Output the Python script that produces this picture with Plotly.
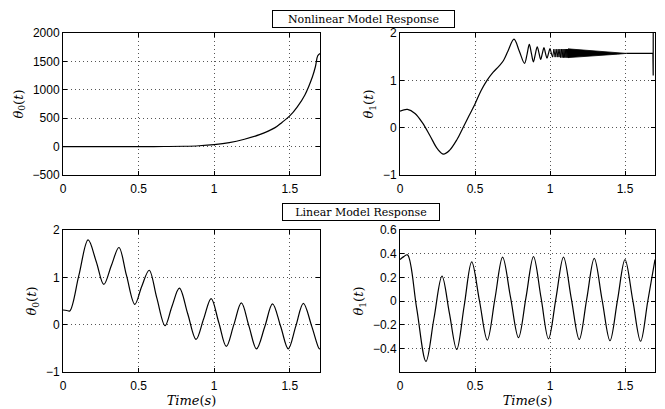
import plotly.graph_objects as go

# ---------------- data ----------------
# Nonlinear model, theta0
nl0_t = [0, 0.2, 0.4, 0.6, 0.7, 0.8, 0.9, 1.0, 1.1, 1.2, 1.3, 1.4, 1.45, 1.5,
         1.55, 1.6, 1.65, 1.67, 1.685, 1.7]
nl0_v = [0, 0, 0, 1, 2, 6, 15, 35, 70, 130, 210, 330, 430, 540,
         700, 910, 1230, 1410, 1600, 1640]

# Nonlinear model, theta1 : smooth part
nl1_t = [0, 0.05, 0.1, 0.15, 0.2, 0.25, 0.29, 0.33, 0.38, 0.42, 0.46, 0.5,
         0.54, 0.58, 0.62, 0.66, 0.69, 0.72, 0.76,
         0.795, 0.83, 0.847, 0.862, 0.876, 0.889, 0.902, 0.915, 0.927, 0.938,
         0.949, 0.96, 0.97, 0.98, 0.99, 1.0, 1.009, 1.018]
nl1_v = [0.35, 0.385, 0.3, 0.1, -0.17, -0.45, -0.56, -0.48, -0.25, 0.0, 0.25, 0.5,
         0.78, 1.0, 1.17, 1.3, 1.42, 1.62, 1.87,
         1.62, 1.36, 1.55, 1.76, 1.57, 1.39, 1.55, 1.71, 1.57, 1.44,
         1.57, 1.69, 1.57, 1.47, 1.57, 1.67, 1.57, 1.49]
# Nonlinear model, theta1 : fast oscillations
nl1_zig_t = [1.018, 1.026, 1.034, 1.041, 1.048, 1.054, 1.06, 1.066, 1.071, 1.076,
             1.081, 1.086, 1.09, 1.094, 1.098, 1.102, 1.106, 1.110, 1.113, 1.116,
             1.119, 1.122, 1.125]
nl1_zig_v = [1.49, 1.66, 1.49, 1.66, 1.49, 1.66, 1.49, 1.66, 1.48, 1.66,
             1.48, 1.66, 1.48, 1.66, 1.48, 1.66, 1.48, 1.66, 1.48, 1.66,
             1.48, 1.66, 1.48]
# Nonlinear model, theta1 : envelope of the unresolved oscillation band
band_t = [1.12, 1.2, 1.3, 1.4, 1.45, 1.51]
band_hi = [1.665, 1.645, 1.625, 1.60, 1.59, 1.572]
band_lo = [1.48, 1.495, 1.515, 1.54, 1.553, 1.569]
# Nonlinear model, theta1 : tail
tail_t = [1.51, 1.686, 1.688, 1.689]
tail_v = [1.5708, 1.5708, 1.1, 10.0]

# Linear model, theta0
l0_t = [0, 0.025, 0.045, 0.105, 0.166, 0.22, 0.27, 0.32, 0.37, 0.42, 0.475, 0.52,
        0.57, 0.62, 0.675, 0.72, 0.77, 0.825, 0.88, 0.93, 0.98, 1.03, 1.08, 1.13,
        1.18, 1.23, 1.28, 1.335, 1.386, 1.44, 1.49, 1.54, 1.59, 1.645, 1.695, 1.7]
l0_v = [0.31, 0.30, 0.29, 1.04, 1.79, 1.33, 0.85, 1.25, 1.63, 1.04, 0.43, 0.80,
        1.15, 0.57, -0.02, 0.38, 0.77, 0.23, -0.31, 0.12, 0.55, 0.05, -0.46, 0.0,
        0.46, -0.03, -0.51, -0.04, 0.44, -0.04, -0.51, -0.03, 0.45, -0.03, -0.51, -0.505]

# Linear model, theta1
l1_t = [0, 0.025, 0.05, 0.111, 0.173, 0.226, 0.28, 0.329, 0.378, 0.428, 0.478,
        0.53, 0.582, 0.633, 0.684, 0.737, 0.79, 0.84, 0.89, 0.94, 0.99, 1.04,
        1.09, 1.142, 1.195, 1.245, 1.295, 1.347, 1.4, 1.45, 1.5, 1.552, 1.604,
        1.652, 1.7]
l1_v = [0.35, 0.375, 0.39, -0.06, -0.51, -0.15, 0.21, -0.1, -0.41, -0.04, 0.33,
        0.0, -0.33, 0.02, 0.37, 0.03, -0.31, 0.03, 0.375, 0.03, -0.32, 0.025,
        0.37, 0.02, -0.325, 0.018, 0.36, 0.012, -0.336, 0.007, 0.35, 0.005, -0.34,
        0.0, 0.35]

x_ticks = [0, 0.5, 1, 1.5]
x_ticktext = ["0", "0.5", "1", "1.5"]
y_ticks_nl0 = [-500, 0, 500, 1000, 1500, 2000]
y_ticks_pm1 = [-1, 0, 1, 2]
y_ticks_l1 = [-0.4, -0.2, 0, 0.2, 0.4, 0.6]

title_top = "Nonlinear Model Response"
title_bottom = "Linear Model Response"
ylab0 = "<i>θ</i><sub>0</sub>(<i>t</i>)"
ylab1 = "<i>θ</i><sub>1</sub>(<i>t</i>)"
xlab = "<i>Time</i>(<i>s</i>)"

# ---------------- figure ----------------
W, H = 665, 409
fig = go.Figure()
line = dict(color="black", width=1.2)
sline = dict(shape="spline", smoothing=1.0, color="black", width=1.2)

fig.add_trace(go.Scatter(x=nl0_t, y=nl0_v, mode="lines", line=sline,
                         xaxis="x", yaxis="y", showlegend=False))
fig.add_trace(go.Scatter(x=nl1_t, y=nl1_v, mode="lines", line=sline,
                         xaxis="x2", yaxis="y2", showlegend=False))
fig.add_trace(go.Scatter(x=nl1_zig_t, y=nl1_zig_v, mode="lines", line=dict(color="black", width=1),
                         xaxis="x2", yaxis="y2", showlegend=False))
fig.add_trace(go.Scatter(x=band_t + band_t[::-1], y=band_hi + band_lo[::-1], mode="lines",
                         fill="toself", fillcolor="black", line=dict(color="black", width=0.8),
                         xaxis="x2", yaxis="y2", showlegend=False))
fig.add_trace(go.Scatter(x=tail_t, y=tail_v, mode="lines", line=line,
                         xaxis="x2", yaxis="y2", showlegend=False))
fig.add_trace(go.Scatter(x=l0_t, y=l0_v, mode="lines", line=sline,
                         xaxis="x3", yaxis="y3", showlegend=False))
fig.add_trace(go.Scatter(x=l1_t, y=l1_v, mode="lines", line=sline,
                         xaxis="x4", yaxis="y4", showlegend=False))

tickfont = dict(family="Liberation Sans, Arial", size=12, color="black")
labfont = dict(family="DejaVu Serif", size=13, color="black")
grid = dict(showgrid=True, gridcolor="#555", griddash="1px,3px", gridwidth=1)


def xax(dom, anchor, title=None):
    d = dict(domain=dom, anchor=anchor, range=[0, 1.7], tickvals=x_ticks, ticktext=x_ticktext,
             showline=True, mirror="ticks", linecolor="black", linewidth=1,
             ticks="inside", ticklen=4, tickcolor="black", automargin=False,
             ticklabelstandoff=3,
             zeroline=False, tickfont=tickfont, **grid)
    if title:
        d["title"] = dict(text=title, font=labfont, standoff=2)
    return d


def yax(dom, anchor, rng, ticks, title):
    return dict(domain=dom, anchor=anchor, range=rng, tickvals=ticks,
                showline=True, mirror="ticks", linecolor="black", linewidth=1,
                ticks="inside", ticklen=4, tickcolor="black", automargin=False,
                zeroline=False, tickfont=tickfont, **grid,
                title=dict(text=title, font=labfont, standoff=6))


xl = [63 / W, 320 / W]
xr = [400 / W, 655 / W]
yt = [1 - 175 / H, 1 - 33 / H]
yb = [1 - 372 / H, 1 - 230 / H]

fig.update_layout(
    width=W, height=H, autosize=False,
    margin=dict(l=0, r=0, t=0, b=0, autoexpand=False),
    paper_bgcolor="white", plot_bgcolor="white",
    xaxis=xax(xl, "y"), yaxis=yax(yt, "x", [-500, 2000], y_ticks_nl0, ylab0),
    xaxis2=xax(xr, "y2"), yaxis2=yax(yt, "x2", [-1, 2], y_ticks_pm1, ylab1),
    xaxis3=xax(xl, "y3", xlab), yaxis3=yax(yb, "x3", [-1, 2], y_ticks_pm1, ylab0),
    xaxis4=xax(xr, "y4", xlab), yaxis4=yax(yb, "x4", [-0.6, 0.6], y_ticks_l1, ylab1),
    annotations=[
        dict(text=title_top, x=363 / W, y=1 - 19 / H, xref="paper", yref="paper",
             showarrow=False, font=dict(family="DejaVu Serif", size=11, color="black"),
             bordercolor="black", borderwidth=1, borderpad=1, bgcolor="white",
             width=179, height=14, xanchor="center", yanchor="middle"),
        dict(text=title_bottom, x=361 / W, y=1 - 211.5 / H, xref="paper", yref="paper",
             showarrow=False, font=dict(family="DejaVu Serif", size=11, color="black"),
             bordercolor="black", borderwidth=1, borderpad=1, bgcolor="white",
             width=154, height=14, xanchor="center", yanchor="middle"),
    ],
)

fig.write_html("out.html", config={"displayModeBar": False},
               post_script="document.body.style.margin='0px';")
